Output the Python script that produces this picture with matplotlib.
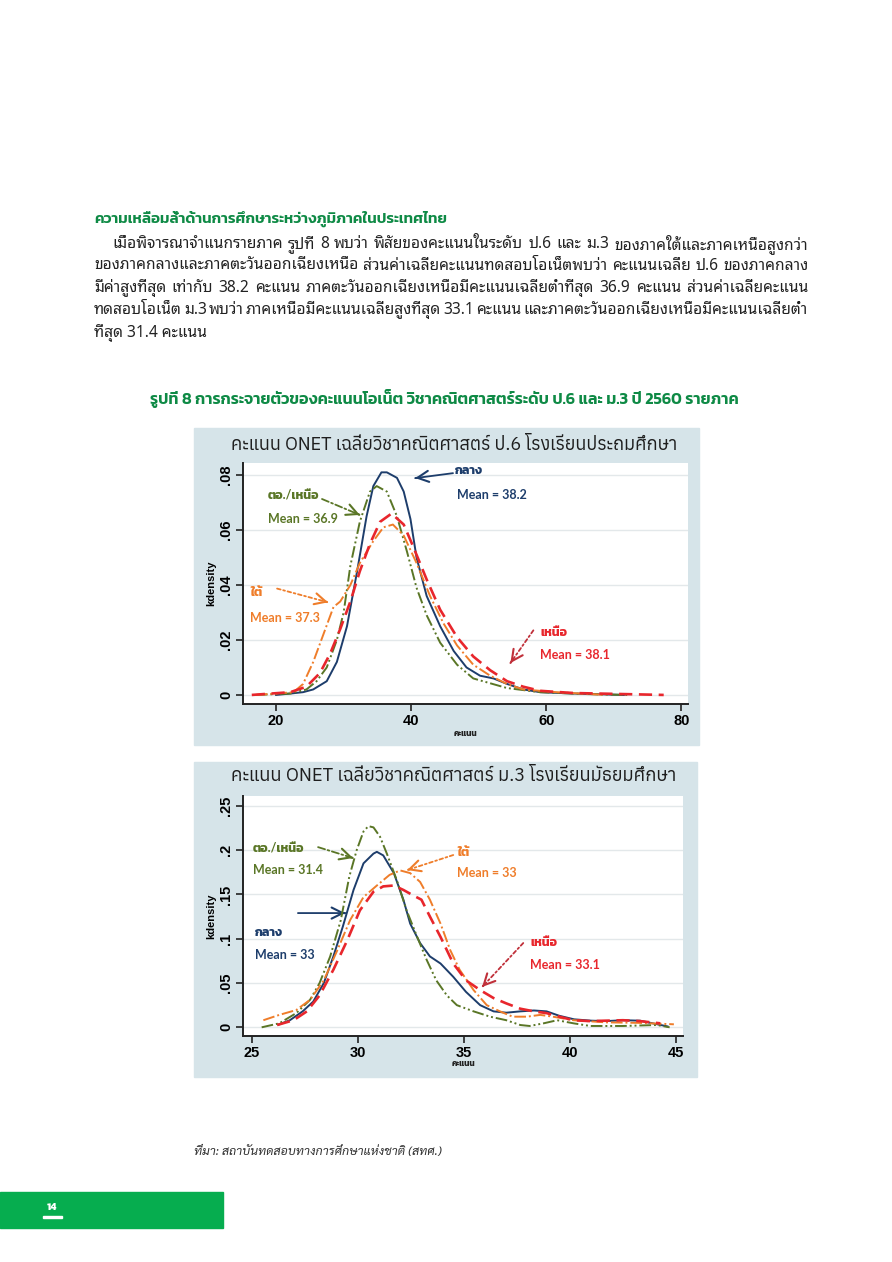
import matplotlib
matplotlib.use('Agg')
import matplotlib.pyplot as plt
from matplotlib.patches import Rectangle

# ---- data ----
heading = 'ความเหลื่อมล้ำด้านการศึกษาระหว่างภูมิภาคในประเทศไทย'
para_lines = [
    'เมื่อพิจารณาจำแนกรายภาค รูปที่ 8 พบว่า พิสัยของคะแนนในระดับ ป.6 และ ม.3 ของภาคใต้และภาคเหนือสูงกว่า',
    'ของภาคกลางและภาคตะวันออกเฉียงเหนือ ส่วนค่าเฉลี่ยคะแนนทดสอบโอเน็ตพบว่า คะแนนเฉลี่ย ป.6 ของภาคกลาง',
    'มีค่าสูงที่สุด เท่ากับ 38.2 คะแนน ภาคตะวันออกเฉียงเหนือมีคะแนนเฉลี่ยต่ำที่สุด 36.9 คะแนน ส่วนค่าเฉลี่ยคะแนน',
    'ทดสอบโอเน็ต ม.3 พบว่า ภาคเหนือมีคะแนนเฉลี่ยสูงที่สุด 33.1 คะแนน และภาคตะวันออกเฉียงเหนือมีคะแนนเฉลี่ยต่ำ',
    'ที่สุด 31.4 คะแนน',
]
caption = 'รูปที่ 8 การกระจายตัวของคะแนนโอเน็ต วิชาคณิตศาสตร์ระดับ ป.6 และ ม.3 ปี 2560 รายภาค'
title_p6 = 'คะแนน ONET เฉลี่ยวิชาคณิตศาสตร์ ป.6 โรงเรียนประถมศึกษา'
title_m3 = 'คะแนน ONET เฉลี่ยวิชาคณิตศาสตร์ ม.3 โรงเรียนมัธยมศึกษา'
source = 'ที่มา: สถาบันทดสอบทางการศึกษาแห่งชาติ (สทศ.)'
page_no = '14'

# P.6 kernel densities
p6_central_x = [20, 22.1, 24, 25.5, 27.5, 29, 30.5, 32, 33.4, 34.4, 35.6, 36.4, 37.9, 38.9, 39.9, 40.8,
                42.3, 44.3, 46.3, 48.2, 50.2, 52.2, 54.2, 56.6, 59.1, 64, 71.5]
p6_central_y = [0.0, 0.0005, 0.001, 0.002, 0.005, 0.012, 0.025, 0.045, 0.065, 0.076, 0.081, 0.081, 0.079,
                0.074, 0.064, 0.050, 0.036, 0.025, 0.016, 0.010, 0.007, 0.006, 0.004, 0.002, 0.001, 0.0005, 0.0]
p6_ne_x = [17, 22.1, 24.5, 26, 27.5, 29, 30, 31, 32.4, 33.9, 34.9, 36.4, 37.9, 39.4, 40.8, 42.3, 44.3,
           46.8, 49.2, 54.2, 59.1, 66, 72]
p6_ne_y = [0.0, 0.0005, 0.002, 0.005, 0.010, 0.020, 0.030, 0.047, 0.063, 0.074, 0.076, 0.074, 0.065,
           0.052, 0.039, 0.029, 0.019, 0.011, 0.006, 0.0025, 0.001, 0.0003, 0.0]
p6_south_x = [17, 22.6, 24, 25.5, 27, 28.5, 29.5, 31, 32.4, 34.4, 35.9, 37.3, 38.9, 40.8, 42.8, 44.8,
              46.8, 49.2, 51.7, 54.2, 56.6, 61.5, 68.9]
p6_south_y = [0.0, 0.001, 0.004, 0.012, 0.022, 0.032, 0.034, 0.040, 0.048, 0.056, 0.061, 0.062, 0.058,
              0.048, 0.036, 0.026, 0.018, 0.011, 0.007, 0.004, 0.002, 0.001, 0.0]
p6_north_x = [16.4, 22.1, 24.5, 26.5, 28, 29.5, 31, 32.4, 33.9, 35.4, 37.1, 38.9, 40.3, 42.3, 44.3, 46.8,
              49.2, 51.7, 54.2, 56.6, 59.1, 64, 77.4]
p6_north_y = [0.0, 0.001, 0.003, 0.008, 0.015, 0.024, 0.034, 0.045, 0.055, 0.063, 0.066, 0.062, 0.054,
              0.042, 0.031, 0.021, 0.014, 0.009, 0.005, 0.003, 0.0015, 0.0007, 0.0]

# M.3 kernel densities
m3_central_x = [26.26, 26.8, 27.4, 27.9, 28.4, 28.85, 29.3, 29.8, 30.27, 30.74, 30.9, 31.2, 31.7, 32.15,
                32.47, 32.94, 33.4, 33.9, 34.5, 35.1, 35.77, 36.4, 37.0, 37.66, 38.3, 38.9, 39.5, 40.2,
                41.0, 41.7, 42.5, 43.3, 43.9, 44.6]
m3_central_y = [0.003, 0.008, 0.018, 0.029, 0.050, 0.080, 0.114, 0.155, 0.185, 0.196, 0.198, 0.194, 0.174,
                0.144, 0.117, 0.095, 0.080, 0.072, 0.057, 0.040, 0.025, 0.018, 0.0165, 0.018, 0.019, 0.018,
                0.013, 0.009, 0.0075, 0.007, 0.008, 0.0075, 0.0045, 0.001]
m3_ne_x = [25.47, 26.3, 27.1, 27.75, 28.2, 28.7, 29.2, 29.6, 29.95, 30.27, 30.5, 30.74, 31.05, 31.37,
           31.84, 32.3, 32.8, 33.25, 33.7, 34.2, 34.67, 35.46, 36.24, 37.0, 37.66, 38.1, 38.76, 39.4,
           40.17, 40.96, 42.5, 44.1, 44.7]
m3_ne_y = [0.0, 0.0045, 0.016, 0.031, 0.050, 0.080, 0.121, 0.170, 0.200, 0.221, 0.227, 0.2256, 0.215,
           0.196, 0.166, 0.132, 0.102, 0.076, 0.053, 0.036, 0.025, 0.018, 0.012, 0.008, 0.0026, 0.0015,
           0.0045, 0.008, 0.0045, 0.0015, 0.0015, 0.0026, 0.0]
m3_south_x = [25.55, 26.3, 27.1, 27.75, 28.4, 29.0, 29.64, 30.27, 30.9, 31.5, 32.0, 32.47, 32.94, 33.4,
              33.9, 34.36, 34.8, 35.46, 36.08, 36.7, 37.3, 37.97, 38.6, 39.2, 40.17, 41.7, 43.3, 44.9]
m3_south_y = [0.008, 0.014, 0.0195, 0.031, 0.053, 0.085, 0.121, 0.147, 0.160, 0.172, 0.177, 0.174, 0.164,
              0.144, 0.117, 0.087, 0.065, 0.042, 0.025, 0.018, 0.012, 0.012, 0.014, 0.012, 0.008, 0.0056,
              0.005, 0.0034]
m3_north_x = [26.2, 26.97, 27.6, 28.2, 28.85, 29.5, 30.1, 30.74, 31.2, 31.7, 32.15, 32.6, 33.0, 33.4, 33.9,
              34.5, 35.1, 35.77, 36.4, 37.0, 37.66, 38.3, 38.9, 39.5, 40.17, 40.96, 41.7, 42.5, 43.3, 44.26]
m3_north_y = [0.0026, 0.008, 0.018, 0.036, 0.065, 0.098, 0.132, 0.153, 0.159, 0.160, 0.155, 0.149, 0.144,
              0.125, 0.102, 0.072, 0.053, 0.042, 0.033, 0.027, 0.021, 0.018, 0.016, 0.012, 0.008, 0.007,
              0.0075, 0.008, 0.007, 0.0045]

p6_xticks = [20, 40, 60, 80]
p6_yticks = [0, 0.02, 0.04, 0.06, 0.08]
p6_ylabels = ['0', '.02', '.04', '.06', '.08']
m3_xticks = [25, 30, 35, 40, 45]
m3_yticks = [0, 0.05, 0.1, 0.15, 0.2, 0.25]
m3_ylabels = ['0', '.05', '.1', '.15', '.2', '.25']

# ---- styling ----
W, H = 892, 1262
GREEN = '#0e8a45'
NAVY = '#1d3d6b'
OLIVE = '#5a7626'
ORANGE = '#ef7d2a'
RED = '#e8262c'
PANEL = '#d6e4e9'
BODY = ['Noto Sans Thai Looped', 'Sarabun']
HEAD = ['Kanit', 'Prompt', 'Noto Sans Thai']
TITLE = ['Anuphan', 'Kanit', 'Noto Sans Thai']
LAT = ['Lato', 'Kanit', 'Noto Sans Thai']

fig = plt.figure(figsize=(W / 100, H / 100), dpi=100)
renderer = fig.canvas.get_renderer()


def fx(x):
    return x / W


def fy(y):
    return 1 - y / H


def fit(t, width):
    # scale a text so that it spans the width measured on the page
    w = t.get_window_extent(renderer).width
    t.set_fontsize(t.get_fontsize() * width / w)
    return t


def justify(line, y, x0, x1, **kw):
    words = line.split(' ')
    texts = [fig.text(0, fy(y), w, va='center', ha='left', **kw) for w in words]
    widths = [t.get_window_extent(renderer).width for t in texts]
    gap = (x1 - x0 - sum(widths)) / (len(words) - 1)
    x = x0
    for t, w in zip(texts, widths):
        t.set_x(fx(x))
        x += w + gap


# heading and paragraph
fit(fig.text(fx(94), fy(219), heading, color=GREEN, fontsize=12, family=HEAD, fontweight='semibold',
             va='center'), 353)
probe = fit(fig.text(fx(112), fy(244), para_lines[0], fontsize=10, family=BODY, va='center'), 690)
body_fs = probe.get_fontsize()
probe.remove()
ys = [244, 266, 288, 310, 333]
for i, line in enumerate(para_lines):
    x0 = 112 if i == 0 else 94
    if i < len(para_lines) - 1:
        justify(line, ys[i], x0, 808, color='#222222', fontsize=body_fs, family=BODY)
    else:
        fig.text(fx(x0), fy(ys[i]), line, color='#222222', fontsize=body_fs, family=BODY, va='center')

fit(fig.text(fx(444), fy(399), caption, color=GREEN, fontsize=12, family=HEAD, va='center', ha='center',
             fontweight='semibold'), 588)


def panel(box, axbox, title, title_y, xlab_y):
    # box / axbox are page pixels: left, top, right, bottom
    l, t, r, b = box
    fig.patches.append(Rectangle((fx(l), fy(b)), (r - l) / W, (b - t) / H,
                                 transform=fig.transFigure, color=PANEL, zorder=-1))
    fit(fig.text(fx((l + r) / 2 + 8), fy(title_y), title, ha='center', va='center', fontsize=13,
                 family=TITLE, fontweight='medium', color='#1e1e1e'), 447)
    l, t, r, b = axbox
    ax = fig.add_axes([fx(l), fy(b), (r - l) / W, (b - t) / H])
    ax.set_facecolor('white')
    for s in ['top', 'right']:
        ax.spines[s].set_visible(False)
    for s in ['left', 'bottom']:
        ax.spines[s].set_color('#222222')
        ax.spines[s].set_linewidth(1.4)
    ax.tick_params(direction='out', length=5, width=1.2, color='#222222', labelsize=10.5, pad=2)
    ax.grid(axis='y', color='#e3e8ea', lw=1.0)
    ax.set_axisbelow(True)
    fig.text(fx((axbox[0] + axbox[2]) / 2), fy(xlab_y), 'คะแนน', ha='center', va='center', fontsize=6,
             family=HEAD, fontweight='bold', color='#222222')
    return ax


def draw_curves(ax, c, ne, s, n):
    ax.plot(c[0], c[1], color=NAVY, lw=1.4, zorder=3)
    ax.plot(ne[0], ne[1], color=OLIVE, lw=1.4, dashes=(6, 1.5, 1, 1.5, 1, 1.5), zorder=4)
    ax.plot(s[0], s[1], color=ORANGE, lw=1.4, dashes=(6, 1.5, 1, 1.5), zorder=4)
    ax.plot(n[0], n[1], color=RED, lw=1.9, dashes=(5, 2.5), zorder=5)


def arrow(ax, tail, head, color, dashes=None):
    ls = '-' if dashes is None else (0, dashes)
    ax.annotate('', xy=head, xytext=tail,
                arrowprops=dict(arrowstyle='-', color=color, lw=1.3, linestyle=ls,
                                shrinkA=0, shrinkB=0))
    dx = (head[0] - tail[0]) * 0.02
    dy = (head[1] - tail[1]) * 0.02
    ax.annotate('', xy=head, xytext=(head[0] - dx, head[1] - dy),
                arrowprops=dict(arrowstyle='->,head_length=0.8,head_width=0.4', color=color, lw=1.5,
                                shrinkA=0, shrinkB=0))


def label(ax, x, y, s, color):
    ax.text(x, y, s, color=color, fontsize=9, family=LAT, fontweight='bold', va='center', ha='left',
            zorder=6)


def finish_ticks(ax, xt, yt, ylab):
    ax.set_xticks(xt)
    ax.set_xticklabels([str(v) for v in xt], fontweight='bold', family=['Liberation Sans'])
    ax.set_yticks(yt)
    ax.set_yticklabels(ylab, rotation=90, va='center', fontweight='bold', family=['Liberation Sans'])
    ax.set_ylabel('kdensity', fontsize=8, fontweight='bold', family=['Liberation Sans'], labelpad=2)


# ---- P.6 chart ----
ax1 = panel((194, 428, 699, 745), (243, 463, 688, 704), title_p6, 445, 734)
ax1.set_xlim(15.1, 81.0)
ax1.set_ylim(-0.0033, 0.0844)
draw_curves(ax1, (p6_central_x, p6_central_y), (p6_ne_x, p6_ne_y), (p6_south_x, p6_south_y),
            (p6_north_x, p6_north_y))
finish_ticks(ax1, p6_xticks, p6_yticks, p6_ylabels)
label(ax1, 46.5, 0.0818, 'กลาง', NAVY)
label(ax1, 46.8, 0.0728, 'Mean = 38.2', NAVY)
arrow(ax1, (46.2, 0.0807), (40.6, 0.0789), NAVY)
label(ax1, 18.8, 0.0724, 'ตอ./เหนือ', OLIVE)
label(ax1, 18.8, 0.0641, 'Mean = 36.9', OLIVE)
arrow(ax1, (26.8, 0.0713), (32.4, 0.0655), OLIVE, (4, 1.5, 1, 1.5))
label(ax1, 16.15, 0.0373, 'ใต้', ORANGE)
label(ax1, 16.15, 0.0279, 'Mean = 37.3', ORANGE)
arrow(ax1, (20.15, 0.0387), (27.7, 0.0337), ORANGE, (2, 1.5, 1, 1.5))
label(ax1, 59.1, 0.0228, 'เหนือ', RED)
label(ax1, 59.1, 0.0145, 'Mean = 38.1', RED)
arrow(ax1, (58.1, 0.0235), (54.7, 0.0116), '#c0303a', (2, 1.5, 1, 1.5))

# ---- M.3 chart ----
ax2 = panel((194, 762, 697, 1077), (243, 796, 683, 1036), title_m3, 776, 1064)
ax2.set_xlim(24.59, 45.33)
ax2.set_ylim(-0.0098, 0.261)
draw_curves(ax2, (m3_central_x, m3_central_y), (m3_ne_x, m3_ne_y), (m3_south_x, m3_south_y),
            (m3_north_x, m3_north_y))
finish_ticks(ax2, m3_xticks, m3_yticks, m3_ylabels)
label(ax2, 25.06, 0.2022, 'ตอ./เหนือ', OLIVE)
label(ax2, 25.06, 0.1774, 'Mean = 31.4', OLIVE)
arrow(ax2, (28.13, 0.2033), (29.78, 0.191), OLIVE, (4, 1.5, 1, 1.5))
label(ax2, 34.68, 0.1977, 'ใต้', ORANGE)
label(ax2, 34.68, 0.1740, 'Mean = 33', ORANGE)
arrow(ax2, (34.5, 0.1944), (32.33, 0.1774), ORANGE, (2, 1.5, 1, 1.5))
label(ax2, 25.16, 0.1075, 'กลาง', NAVY)
label(ax2, 25.16, 0.0816, 'Mean = 33', NAVY)
arrow(ax2, (27.18, 0.1289), (29.4, 0.1289), NAVY)
label(ax2, 38.13, 0.0962, 'เหนือ', RED)
label(ax2, 38.13, 0.0703, 'Mean = 33.1', RED)
arrow(ax2, (37.8, 0.0951), (35.86, 0.0455), '#c0303a', (2, 1.5, 1, 1.5))

# source and page footer
fit(fig.text(fx(194), fy(1152), source, fontsize=8.5, family=['Sarabun'], style='italic', color='#333333',
             va='center'), 248)
fig.patches.append(Rectangle((0, fy(1228)), 223 / W, 36 / H, transform=fig.transFigure,
                             color='#06ad4f', zorder=-1))
fig.text(fx(52), fy(1207), page_no, color='white', fontsize=8, family=HEAD, ha='center', va='center',
         fontweight='bold')
fig.patches.append(Rectangle((fx(43), fy(1218)), 19 / W, 2.5 / H, transform=fig.transFigure,
                             color='white', zorder=1))

fig.savefig('out.png', dpi=100)
